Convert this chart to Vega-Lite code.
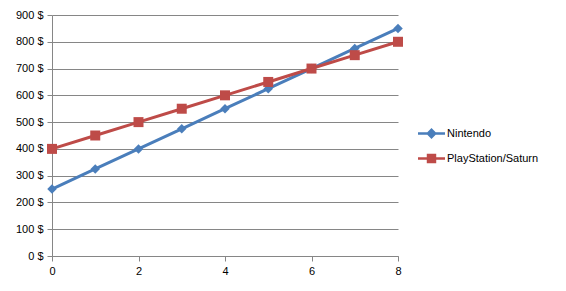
{
  "$schema": "https://vega.github.io/schema/vega-lite/v6.json",
  "autosize": "none",
  "width": 346,
  "height": 241,
  "padding": {"left": 52, "top": 15, "right": 168, "bottom": 35},
  "background": "white",
  "config": {
    "view": {"stroke": null},
    "font": "Liberation Sans",
    "axis": {"labelFont": "Liberation Sans", "labelFontSize": 11, "labelColor": "#000000", "domainColor": "#868686", "tickColor": "#868686", "gridColor": "#868686", "domainWidth": 1, "tickWidth": 1, "gridWidth": 1}
  },
  "data": {
    "values": [
      {"x": 0, "series": "Nintendo", "value": 250},
      {"x": 1, "series": "Nintendo", "value": 325},
      {"x": 2, "series": "Nintendo", "value": 400},
      {"x": 3, "series": "Nintendo", "value": 475},
      {"x": 4, "series": "Nintendo", "value": 550},
      {"x": 5, "series": "Nintendo", "value": 625},
      {"x": 6, "series": "Nintendo", "value": 700},
      {"x": 7, "series": "Nintendo", "value": 775},
      {"x": 8, "series": "Nintendo", "value": 850},
      {"x": 0, "series": "PlayStation/Saturn", "value": 400},
      {"x": 1, "series": "PlayStation/Saturn", "value": 450},
      {"x": 2, "series": "PlayStation/Saturn", "value": 500},
      {"x": 3, "series": "PlayStation/Saturn", "value": 550},
      {"x": 4, "series": "PlayStation/Saturn", "value": 600},
      {"x": 5, "series": "PlayStation/Saturn", "value": 650},
      {"x": 6, "series": "PlayStation/Saturn", "value": 700},
      {"x": 7, "series": "PlayStation/Saturn", "value": 750},
      {"x": 8, "series": "PlayStation/Saturn", "value": 800}
    ]
  },
  "encoding": {
    "x": {"field": "x", "type": "quantitative", "scale": {"domain": [0, 8], "nice": false, "zero": false},
      "axis": {"title": null, "values": [0, 2, 4, 6, 8], "grid": false, "tickSize": 5, "labelPadding": 4, "labelFlush": false}},
    "y": {"field": "value", "type": "quantitative", "scale": {"domain": [0, 900], "nice": false},
      "axis": {"title": null, "values": [0, 100, 200, 300, 400, 500, 600, 700, 800, 900], "tickSize": 5, "labelPadding": 4, "labelExpr": "datum.value + ' $'"}},
    "color": {"field": "series", "type": "nominal",
      "scale": {"domain": ["Nintendo", "PlayStation/Saturn"], "range": ["#4A7EBB", "#BE4B48"]}}
  },
  "layer": [
    {
      "mark": {"type": "line", "strokeWidth": 3},
      "encoding": {
        "color": {"field": "series", "type": "nominal",
          "scale": {"domain": ["Nintendo", "PlayStation/Saturn"], "range": ["#4A7EBB", "#BE4B48"]},
          "legend": {
            "title": null, "orient": "none", "legendX": 366, "legendY": 105,
            "symbolSize": 729, "symbolType": "M-1,-0.1H1V0.1H-1Z", "symbolStrokeWidth": 0,
            "labelFont": "Liberation Sans", "labelFontSize": 11, "labelColor": "#000000",
            "rowPadding": 6, "labelOffset": 2,
            "encode": {
              "symbols": {"update": {
                "shape": {"signal": "datum.value === 'Nintendo' ? 'M-1,-0.1H1V0.1H-1Z M0,-0.4L0.4,0L0,0.4L-0.4,0Z' : 'M-1,-0.1H1V0.1H-1Z M-0.35,-0.35H0.35V0.35H-0.35Z'"},
                "fill": {"signal": "datum.value === 'Nintendo' ? '#4A7EBB' : '#BE4B48'"},
                "strokeWidth": {"value": 0},
                "opacity": {"value": 1}
              }}
            }
          }}
      }
    },
    {
      "transform": [{"filter": "datum.series === 'Nintendo'"}],
      "mark": {"type": "point", "shape": "diamond", "filled": true, "size": 90, "opacity": 1},
      "encoding": {"color": {"field": "series", "type": "nominal", "legend": null}}
    },
    {
      "transform": [{"filter": "datum.series === 'PlayStation/Saturn'"}],
      "mark": {"type": "point", "shape": "square", "filled": true, "size": 100, "opacity": 1},
      "encoding": {"color": {"field": "series", "type": "nominal", "legend": null}}
    }
  ]
}
